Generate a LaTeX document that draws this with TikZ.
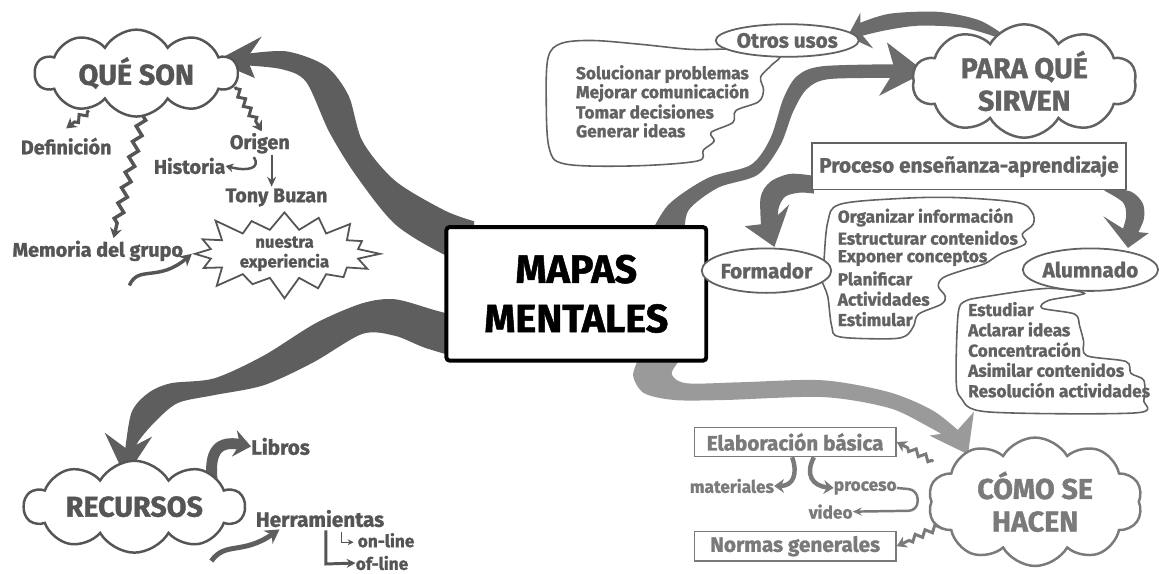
\documentclass[tikz,border=0pt]{standalone}
\usepackage{fontspec}
\setmainfont{Fira Sans}[BoldFeatures={FakeBold=1.3}]
\usetikzlibrary{shapes.symbols,shapes.geometric,arrows.meta,decorations.pathmorphing,backgrounds}
\definecolor{tg}{HTML}{555555}
\definecolor{tr}{HTML}{626262}
\definecolor{tl}{HTML}{7A7A7A}
\definecolor{bA}{HTML}{5E5E5E}
\definecolor{bB}{HTML}{6C6C6C}
\definecolor{bD}{HTML}{9A9A9A}
\newcommand\fsz[2]{\fontsize{#1pt}{#2pt}\selectfont}
\begin{document}
\begin{tikzpicture}[x=1pt,y=-1pt,
  cloudn/.style={cloud, cloud puffs=10, cloud puff arc=120, cloud ignores aspect, draw=tg, line width=2.5pt, fill=white, inner sep=0pt, align=center, text=tg, font=\bfseries\fsz{29}{33}},
  lab/.style={inner sep=0pt, text=tg, font=\bfseries\fsz{20}{24}},
  lst/.style={inner sep=0pt, text=tr, font=\bfseries\fsz{17.5}{20}},
  ovl/.style={ellipse, draw=tr, line width=1.8pt, fill=white, inner sep=0pt, text=tr, font=\bfseries\fsz{21}{24}},
  rbox/.style={rectangle, draw=tr, line width=1.6pt, fill=white, inner sep=0pt, text=tr, font=\bfseries\fsz{21}{24}},
  zz/.style={draw=#1, line width=3pt, decorate, decoration={zigzag, amplitude=3pt, segment length=11pt, pre length=2pt, post length=9pt}, -{Stealth[length=10pt,width=12pt]}},
  zz/.default=tg
]
% ---------- speech bubbles ----------
\draw[tr, line width=1.6pt, fill=white] plot[smooth cycle, tension=0.55] coordinates {(745,50) (700,50) (650,45) (600,41) (568,44) (555,58) (553,100) (556,150) (572,166) (640,168) (706,163) (712,152) (723,143) (720,134) (742,124) (745,112) (768,103) (773,91) (770,78) (781,66) (788,56)};
\draw[tr, line width=1.6pt, fill=white] plot[smooth cycle, tension=0.55] coordinates {(834,266) (838,225) (850,207) (910,201) (967,200) (1030,205) (1045,215) (1046,227) (1035,237) (1038,247) (1013,257) (997,267) (977,273) (955,281) (950,290) (957,300) (953,308) (930,318) (925,330) (917,340) (900,343) (850,341) (842,330) (838,300) (832,283)};
\draw[tr, line width=1.6pt, fill=white] plot[smooth cycle, tension=0.5] coordinates {(1060,292) (1000,300) (977,305) (970,318) (968,383) (973,403) (1000,417) (1150,418) (1158,405) (1158,385) (1145,378) (1140,366) (1100,360) (1097,345) (1093,330) (1088,318) (1055,312) (1062,304) (1098,297)};

% ---------- central node ----------
\node[draw=black, line width=4pt, rounded corners=3pt, fill=white, minimum width=263pt, minimum height=135pt, align=center, font=\bfseries\fsz{40}{50}] (mm) at (583.5,297.5) {MAPAS\\MENTALES};

% ---------- QUE SON ----------
\node[cloudn, minimum width=205pt, minimum height=88pt] (qs) at (138,74) {QUÉ SON};
\node[lab] (def) at (67,148) {Definición};
\node[lab] (og) at (263,145) {Origen};
\node[lab] (hi) at (192,168) {Historia};
\node[lab] (tb) at (280,200) {Tony Buzan};
\node[lab] (mg) at (99,254) {Memoria del grupo};
\node[starburst, starburst points=16, starburst point height=24pt, draw=tg, line width=1.8pt, fill=white, minimum width=200pt, minimum height=88pt, inner sep=0pt, align=center, text=tg, font=\bfseries\fsz{17}{20}] (ne) at (288,257) {nuestra\\experiencia};

% ---------- PARA QUE SIRVEN ----------
\node[cloudn, draw=tr, text=tr, minimum width=227pt, minimum height=110pt] (ps) at (1037,82) {PARA QUÉ\\SIRVEN};
\node[ovl, minimum width=129pt, minimum height=33pt] (ou) at (797,41) {Otros usos};
\foreach \t [count=\i] in {Solucionar problemas,Mejorar comunicación,Tomar decisiones,Generar ideas}
  \node[lst, anchor=west] (ou\i) at (583,{56+19*\i}) {\t};
\node[rbox, minimum width=318pt, minimum height=47pt] (pe) at (981,168.5) {Proceso enseñanza-aprendizaje};
\node[ovl, minimum width=115pt, minimum height=45pt] (fo) at (776,274) {Formador};
\node[ovl, minimum width=122pt, minimum height=43pt] (al) at (1104,273) {Alumnado};
\foreach \t [count=\i] in {Organizar información,Estructurar contenidos,Exponer conceptos,Planificar,Actividades,Estimular}
  \node[lst, anchor=west] (fo\i) at (848,{199.5+20.6*\i}) {\t};
\foreach \t [count=\i] in {Estudiar,Aclarar ideas,Concentración,Asimilar contenidos,Resolución actividades}
  \node[lst, anchor=west] (al\i) at (980,{292.5+20.5*\i}) {\t};

% ---------- COMO SE HACEN ----------
\node[cloudn, draw=tl, text=tl, minimum width=217pt, minimum height=130pt] (ch) at (1048,508) {CÓMO SE\\HACEN};
\node[rbox, draw=tl, text=tl, minimum width=204pt, minimum height=29pt] (eb) at (805,447.5) {Elaboración básica};
\node[rbox, draw=tl, text=tl, minimum width=204pt, minimum height=30pt] (ng) at (805,553) {Normas generales};
\node[lab, text=tl, font=\bfseries\fsz{17.5}{20}] (ma) at (741,492) {materiales};
\node[lab, text=tl, font=\bfseries\fsz{17.5}{20}] (pr) at (876,494) {proceso};
\node[lab, text=tl, font=\bfseries\fsz{17.5}{20}] (vi) at (841,518) {video};

% ---------- RECURSOS ----------
\node[cloudn, minimum width=223pt, minimum height=93pt] (rc) at (136,513) {RECURSOS};
\node[lab, font=\bfseries\fsz{21}{24}] (li) at (284,452) {Libros};
\node[lab, font=\bfseries\fsz{21}{24}] (he) at (324,525) {Herramientas};
\node[lab, font=\bfseries\fsz{17.5}{20}, anchor=west] (on) at (362,547) {on-line};
\node[lab, font=\bfseries\fsz{17.5}{20}, anchor=west] (of) at (360,570) {of-line};

% ---------- connectors (behind) ----------
\begin{scope}[on background layer]
\fill[white] (0,0) rectangle (1159,581);
% center -> QUE SON
\fill[bA] plot[smooth] coordinates {(246,55) (290,52) (330,67) (353,97) (367,143) (400,183) (450,213) (480,224)} -- plot[smooth] coordinates {(480,268) (450,258) (400,227) (360,177) (333,133) (310,83) (285,70) (246,66)} -- cycle;
\fill[bA] (218,62) -- (265,37) -- (250,59) -- (258,79) -- cycle;
% center -> PARA QUE
\fill[bB] plot[smooth] coordinates {(657,240) (677,207) (717,180) (760,167) (780,140) (793,100) (807,77) (833,67) (912,65)} -- plot[smooth] coordinates {(912,79) (840,80) (817,90) (803,113) (790,147) (767,177) (727,190) (697,213) (693,240)} -- cycle;
\fill[bB] (937,73) -- (898,43) -- (906,71) -- (890,97) -- cycle;
% PARA QUE -> Otros usos
\fill[bB] plot[smooth] coordinates {(866,25) (900,14) (950,12) (990,20) (1013,33)} -- plot[smooth] coordinates {(1007,37) (975,28) (930,26) (895,31) (866,38)} -- cycle;
\fill[bB] (858,37) -- (871,13) -- (871,33) -- (884,49) -- cycle;
% center -> RECURSOS
\fill[bA] plot[smooth] coordinates {(470,322) (440,314) (400,303) (367,307) (320,327) (267,360) (217,383) (173,388) (150,398) (133,418) (126,462)} -- plot[smooth] coordinates {(134,462) (140,447) (157,427) (180,408) (217,400) (267,390) (317,367) (367,338) (400,340) (430,352) (470,364)} -- cycle;
\fill[bA] (127,483) -- (106,438) -- (129,455) -- (154,442) -- cycle;
% center -> COMO SE HACEN
\fill[bD] plot[smooth] coordinates {(692,360) (680,378) (695,388) (750,387) (833,385) (900,397) (945,416) (976,441)} -- plot[smooth] coordinates {(966,447) (940,432) (900,413) (833,402) (733,405) (683,405) (652,398) (641,380) (648,360)} -- cycle;
\fill[bD] (980,460) -- (941,441) -- (968,437) -- (986,417) -- cycle;
% Proceso -> Formador
\fill[bB] plot[smooth] coordinates {(824,178) (800,176) (780,184) (770,200) (771,235)} -- plot[smooth] coordinates {(789,231) (788,212) (795,199) (810,195) (824,196)} -- cycle;
\fill[bB] (784,250) -- (754,229) -- (779,226) -- (799,207) -- cycle;
% Proceso -> Alumnado
\fill[bB] plot[smooth] coordinates {(1120,190) (1145,194) (1157,206) (1158,222) (1150,240)} -- plot[smooth] coordinates {(1134,240) (1140,220) (1137,205) (1118,193)} -- cycle;
\fill[bB] (1142,251) -- (1117,219) -- (1141,234) -- (1163,236) -- cycle;
% QUE SON branches
\draw[zz] (90,112) -- (67,130);
\draw[zz, line width=3.5pt, decoration={zigzag, amplitude=4pt, segment length=16pt, pre length=2pt, post length=10pt}] (145,115) -- (115,241);
\draw[zz] (238,88) -- (265,133);
\draw[tg, line width=2.5pt, -{Stealth[length=8pt,width=9pt]}] (257,159) .. controls (264,170) and (252,174) .. (hi.east);
\draw[tg, line width=1.8pt, -{Stealth[length=10pt,width=9pt]}] (275,157) -- (275,189);
\draw[tg, line width=3.5pt, -{Stealth[length=12pt,width=13pt]}] (131,289) .. controls (140,268) and (160,286) .. (ne.west);
% RECURSOS branches
\draw[bA, line width=11pt, -{Stealth[length=17pt,width=27pt]}] (215,488) .. controls (211,455) and (222,446) .. (li.west);
\draw[bA, line width=5pt, -{Stealth[length=14pt,width=16pt]}] (214,568) .. controls (228,548) and (245,562) .. (283,536);
\draw[tg, line width=3pt, -{Stealth[length=9pt,width=9pt]}] (330,537) -- (330,571) -- (of.west);
\draw[tg, line width=1.5pt, -{Stealth[length=6pt,width=6pt]}] (346,539) -- (346,549) -- (358,549);
% COMO SE HACEN branches
\draw[zz=tl] (945,467) -- (eb.east);
\draw[zz=tl] (957,530) -- (ng.east);
\draw[tl, line width=4.5pt, -{Stealth[length=10pt,width=14pt]}] (802,463) .. controls (808,480) and (803,492) .. (ma.east);
\draw[tl, line width=4.5pt, -{Stealth[length=10pt,width=14pt]}] (824,463) .. controls (815,480) and (822,492) .. (pr.west);
\draw[tl, line width=2.5pt, rounded corners=9pt, -{Stealth[length=9pt,width=8pt]}] (pr.east) -- (929,496) -- (929,517) -- (vi.east);
\end{scope}
\end{tikzpicture}
\end{document}
